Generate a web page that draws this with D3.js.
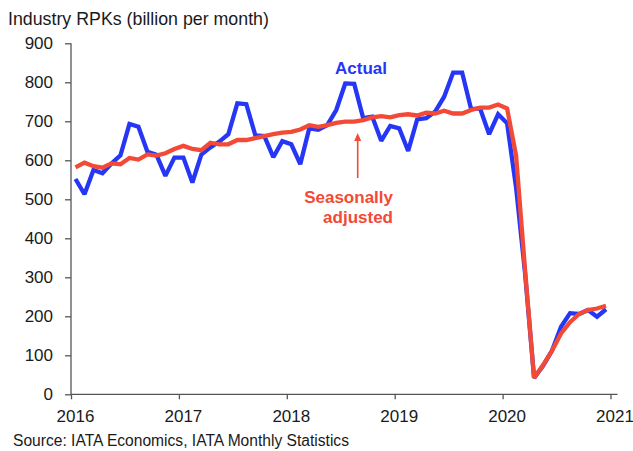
<!DOCTYPE html>
<html>
<head>
<meta charset="utf-8">
<script src="https://cdn.jsdelivr.net/npm/d3@7"></script>
<style>
  html, body { margin: 0; padding: 0; background: #fff; }
  svg { display: block; font-family: "Liberation Sans", Arial, sans-serif; }
</style>
</head>
<body>
<svg id="chart" width="633" height="451"></svg>
<script>
// ---- data (monthly, Jan 2016 – Dec 2020, billion RPKs) ----
const startYear = 2016;
const yearLabels = ["2016", "2017", "2018", "2019", "2020", "2021"];
const yTicks = [0, 100, 200, 300, 400, 500, 600, 700, 800, 900];
const actual = [
  552, 513, 575, 567, 592, 613, 693, 686, 622, 614, 560, 607,
  607, 543, 615, 633, 648, 667, 746, 744, 664, 662, 608, 649,
  641, 590, 682, 678, 690, 729, 797, 796, 708, 712, 650, 688,
  682, 624, 705, 708, 725, 763, 825, 825, 731, 733, 667, 718,
  695, 530, 310, 42, 73, 112, 173, 208, 206, 216, 199, 218
];
const seasonallyAdjusted = [
  582, 594, 585, 581, 592, 590, 606, 602, 615, 612, 618, 629,
  637, 629, 626, 645, 641, 641, 652, 652, 657, 662, 667, 671,
  673, 679, 690, 686, 690, 696, 699, 699, 703, 710, 713, 710,
  716, 718, 715, 722, 720, 727, 720, 720, 729, 735, 735, 743,
  733, 612, 318, 42, 75, 112, 156, 185, 206, 216, 220, 227
];
const titleText = "Industry RPKs (billion per month)";
const sourceText = "Source: IATA Economics, IATA Monthly Statistics";

// ---- layout ----
const svg = d3.select("#chart");
const nMonths = (yearLabels.length - 1) * 12;
const x = d3.scaleLinear().domain([0, nMonths]).range([71, 610.5]);
const y = d3.scaleLinear().domain([0, 900]).range([394.3, 43.3]);

const axisColor = "#555";
const blue = "#2536f4";
const red = "#f24a36";

// title
svg.append("text")
  .attr("x", 8).attr("y", 25)
  .attr("font-size", 17.8).attr("fill", "#1a1a1a")
  .text(titleText);

// y axis
const yAxis = svg.append("g")
  .attr("transform", `translate(${x(0)},0)`)
  .call(d3.axisLeft(y).tickValues(yTicks).tickSize(6).tickPadding(12));
yAxis.select(".domain").remove();
yAxis.selectAll(".tick line").attr("stroke", axisColor).attr("stroke-width", 1.3);
yAxis.selectAll(".tick text").attr("font-size", 17).attr("fill", "#1a1a1a")
  .attr("font-family", "Liberation Sans, Arial, sans-serif");

// x axis
const xAxis = svg.append("g")
  .attr("transform", `translate(0,${y(0)})`)
  .call(d3.axisBottom(x)
    .tickValues(yearLabels.map((d, i) => i * 12))
    .tickFormat((d, i) => yearLabels[i])
    .tickSize(5).tickPadding(11));
xAxis.select(".domain").remove();
xAxis.selectAll(".tick line").attr("stroke", axisColor).attr("stroke-width", 1.3);
xAxis.selectAll(".tick text").attr("font-size", 17).attr("fill", "#1a1a1a")
  .attr("dx", 4)
  .attr("font-family", "Liberation Sans, Arial, sans-serif");

// axis lines
svg.append("line")
  .attr("x1", x(0)).attr("x2", x(0))
  .attr("y1", y(900)).attr("y2", y(0))
  .attr("stroke", axisColor).attr("stroke-width", 1.3);
svg.append("line")
  .attr("x1", x(0)).attr("x2", x(nMonths) + 7)
  .attr("y1", y(0)).attr("y2", y(0))
  .attr("stroke", axisColor).attr("stroke-width", 1.3);

// lines
const line = d3.line()
  .x((d, i) => x(i + 0.5))
  .y(d => y(d));

svg.append("path")
  .datum(actual)
  .attr("d", line)
  .attr("fill", "none")
  .attr("stroke", blue)
  .attr("stroke-width", 4.3)
  .attr("stroke-linejoin", "miter")
  .attr("stroke-miterlimit", 2);

svg.append("path")
  .datum(seasonallyAdjusted)
  .attr("d", line)
  .attr("fill", "none")
  .attr("stroke", red)
  .attr("stroke-width", 4.3)
  .attr("stroke-linejoin", "miter")
  .attr("stroke-miterlimit", 2);

// annotations
svg.append("text")
  .attr("x", 361).attr("y", 74)
  .attr("text-anchor", "middle")
  .attr("font-size", 17).attr("font-weight", "bold")
  .attr("fill", blue)
  .text("Actual");

svg.append("text")
  .attr("x", 393).attr("y", 203)
  .attr("text-anchor", "end")
  .attr("font-size", 17).attr("font-weight", "bold")
  .attr("fill", red)
  .text("Seasonally");
svg.append("text")
  .attr("x", 393).attr("y", 223)
  .attr("text-anchor", "end")
  .attr("font-size", 17).attr("font-weight", "bold")
  .attr("fill", red)
  .text("adjusted");

// arrow
const ax = 357.7;
svg.append("line")
  .attr("x1", ax).attr("x2", ax)
  .attr("y1", 178).attr("y2", 139)
  .attr("stroke", red).attr("stroke-width", 1.6);
svg.append("path")
  .attr("d", `M${ax},133 L${ax - 3.5},141 L${ax + 3.5},141 Z`)
  .attr("fill", red);

// source
svg.append("text")
  .attr("x", 13).attr("y", 446)
  .attr("font-size", 15.6).attr("fill", "#1a1a1a")
  .text(sourceText);
</script>
</body>
</html>
